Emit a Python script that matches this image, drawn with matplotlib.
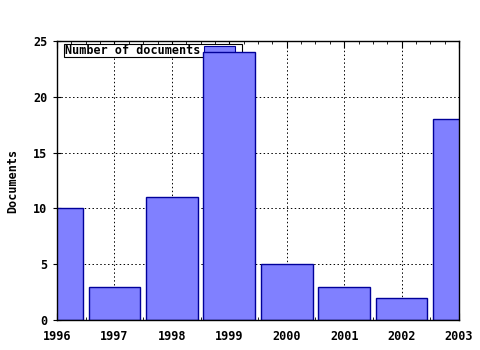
import matplotlib.pyplot as plt
from matplotlib.patches import Rectangle
from matplotlib.ticker import MultipleLocator

# documents per year
years = [1996, 1997, 1998, 1999, 2000, 2001, 2002, 2003]
documents = [10, 3, 11, 24, 5, 3, 2, 18]
series_label = 'Number of documents'

bar_color = '#8080ff'
edge_color = '#000099'

plt.rcParams['font.family'] = 'DejaVu Sans Mono'
plt.rcParams['font.weight'] = 'bold'

fig = plt.figure(figsize=(4.8, 3.5), dpi=100)
ax = fig.add_axes([57 / 480, 30 / 350, 402 / 480, 279 / 350])

ax.bar(years, documents, width=0.9, color=bar_color, edgecolor=edge_color,
       linewidth=1, zorder=3)

ax.set_xlim(1996, 2003)
ax.set_ylim(0, 25)
ax.set_xticks(years)
ax.yaxis.set_major_locator(MultipleLocator(5))
ax.xaxis.set_minor_locator(MultipleLocator(0.25))
ax.grid(True, color='black', linestyle=(0, (1.5, 2.5)), linewidth=0.7, zorder=1)
ax.set_axisbelow(True)

ax.tick_params(axis='x', which='both', top=True, direction='in', labelsize=8.5, pad=7)
ax.tick_params(axis='x', which='major', length=5)
ax.tick_params(axis='x', which='minor', length=2)
ax.tick_params(axis='y', direction='inout', length=6, labelsize=8.5, pad=4)
ax.set_ylabel('Documents', fontsize=8.5, fontweight='bold', labelpad=10)

for s in ax.spines.values():
    s.set_linewidth(1)
    s.set_zorder(4)

# legend box drawn by hand (bars overlap it in the original)
ax.add_patch(Rectangle((0.017, 0.943), 0.443, 0.046, transform=ax.transAxes,
                       facecolor='white', edgecolor='black', linewidth=0.8, zorder=2))
ax.text(0.02, 0.966, series_label, transform=ax.transAxes, fontsize=8.5,
        va='center', ha='left', zorder=2.5)
ax.add_patch(Rectangle((0.366, 0.958), 0.077, 0.024, transform=ax.transAxes,
                       facecolor=bar_color, edgecolor=edge_color, linewidth=0.8, zorder=2.5))

plt.savefig('out.png')
